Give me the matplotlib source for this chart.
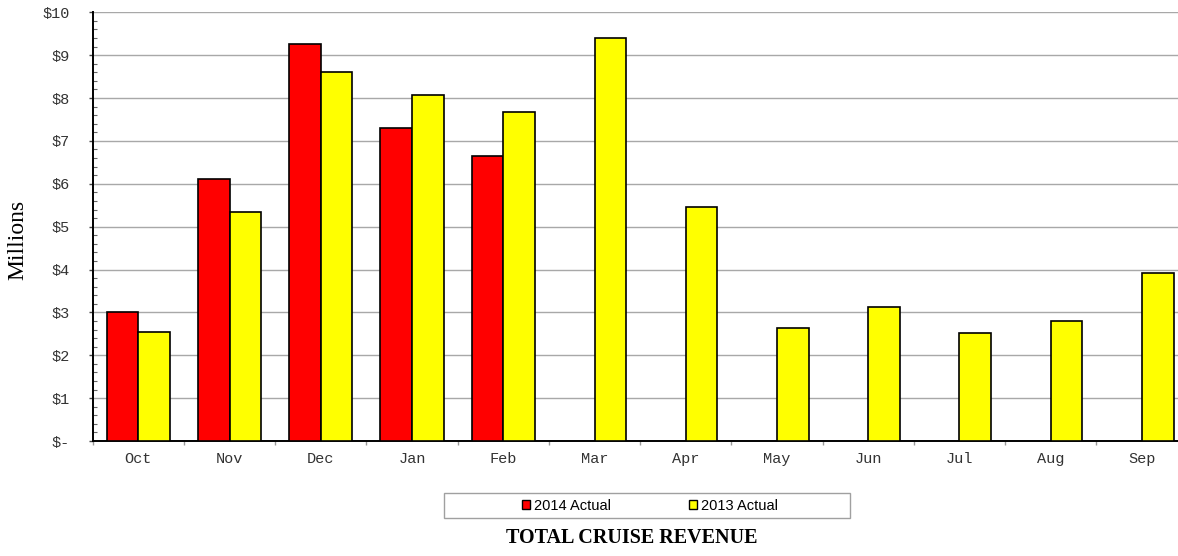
import numpy as np
import matplotlib.pyplot as plt
from matplotlib.patches import Patch, Rectangle
from matplotlib.ticker import MultipleLocator, FixedLocator

months = ['Oct', 'Nov', 'Dec', 'Jan', 'Feb', 'Mar', 'Apr', 'May', 'Jun', 'Jul', 'Aug', 'Sep']
# revenue in millions of dollars
actual_2014 = [3.02, 6.10, 9.25, 7.29, 6.65]
actual_2013 = [2.54, 5.34, 8.61, 8.07, 7.67, 9.41, 5.47, 2.64, 3.13, 2.53, 2.81, 3.93]
y_ticks = [0, 1, 2, 3, 4, 5, 6, 7, 8, 9, 10]

W, H = 1178, 556
fig = plt.figure(figsize=(W / 100, H / 100), dpi=100)
# the plot area runs past the right edge of the picture, as in the original
ax = fig.add_axes([92.7 / W, 1 - 441 / H, 12 * 91.24 / W, (441 - 12.3) / H])

x = np.arange(len(months))
bw = 0.347
ax.bar(x[:len(actual_2014)] - bw / 2, actual_2014, width=bw, color='#ff0000',
       edgecolor='black', linewidth=1.2, zorder=3)
ax.bar(x + bw / 2, actual_2013, width=bw, color='#ffff00',
       edgecolor='black', linewidth=1.2, zorder=3)

ax.set_xlim(-0.5, len(months) - 0.5)
ax.set_ylim(0, 10)

ax.set_yticks(y_ticks)
ax.set_yticklabels(['$-' if v == 0 else f'${v}' for v in y_ticks],
                   family='Liberation Mono', fontsize=11, color='#333333')
ax.yaxis.set_minor_locator(MultipleLocator(0.2))
ax.tick_params(axis='y', which='major', direction='out', length=3, width=1,
               color='#444444', pad=13.5)
ax.tick_params(axis='y', which='minor', direction='in', length=3, width=0.8,
               color='#666666')
ax.grid(axis='y', which='major', color='#a8a8a8', linewidth=1, zorder=0)

# category boundary ticks and centred month labels
ax.xaxis.set_major_locator(FixedLocator(np.arange(-0.5, len(months), 1.0)))
ax.set_xticklabels([])
ax.xaxis.set_minor_locator(FixedLocator(x))
ax.set_xticklabels(months, minor=True, family='Liberation Mono', fontsize=11,
                   color='#333333')
ax.tick_params(axis='x', which='major', direction='out', length=3, width=1,
               color='#999999')
ax.tick_params(axis='x', which='minor', length=0, pad=8)

for side in ['top', 'right']:
    ax.spines[side].set_visible(False)
ax.spines['left'].set_color('black')
ax.spines['left'].set_linewidth(1.4)
ax.spines['bottom'].set_color('black')
ax.spines['bottom'].set_linewidth(1.4)

fig.text(18 / W, 1 - 240 / H, 'Millions', rotation=90, ha='center', va='center',
         family='Liberation Serif', fontsize=17)

# legend box
fig.patches.append(Rectangle((444 / W, 1 - 518 / H), (850 - 444) / W, (518 - 493) / H,
                             transform=fig.transFigure, facecolor='white',
                             edgecolor='#a0a0a0', linewidth=1))
handles = [Patch(facecolor='#ff0000', edgecolor='black', linewidth=1),
           Patch(facecolor='#ffff00', edgecolor='black', linewidth=1)]
fig.legend(handles, ['2014 Actual', '2013 Actual'], loc='center',
           bbox_to_anchor=(650 / W, 1 - 505.5 / H), ncol=2, frameon=False,
           prop={'family': 'Liberation Sans', 'size': 10.5},
           handlelength=0.55, handleheight=0.55, handletextpad=0.25,
           columnspacing=5.4)

fig.text(632 / W, 1 - 538 / H, 'TOTAL CRUISE REVENUE', ha='center', va='center',
         family='Liberation Serif', fontweight='bold', fontsize=14.5)

fig.savefig('out.png', dpi=100)
